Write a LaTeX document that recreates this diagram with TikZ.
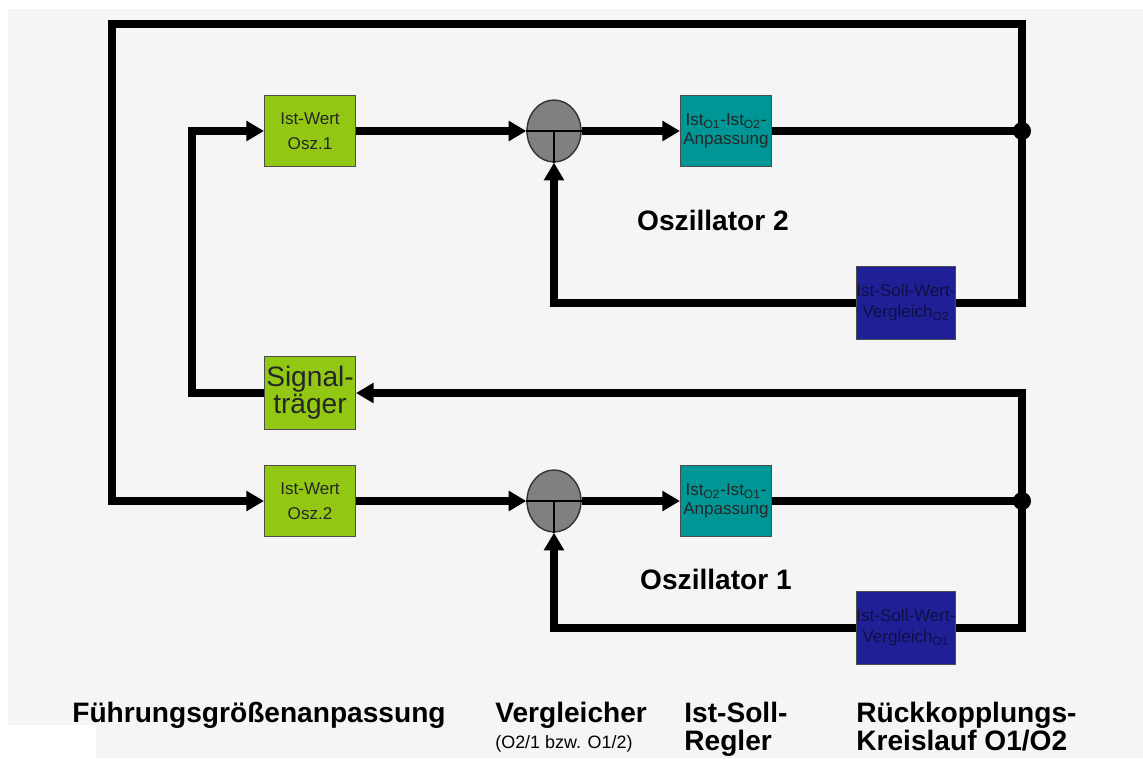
\documentclass[tikz,border=0pt]{standalone}
\usepackage{fontspec}
\setmainfont{Liberation Sans}
\usetikzlibrary{arrows.meta,shapes.geometric}
\definecolor{bg}{HTML}{F5F5F5}
\definecolor{boxgreen}{RGB}{146,200,20}
\definecolor{boxteal}{RGB}{0,150,150}
\definecolor{boxnavy}{RGB}{32,32,150}
\definecolor{navytext}{RGB}{15,15,70}
\definecolor{cmpgray}{RGB}{128,128,128}
\begin{document}
\begin{tikzpicture}[x=0.02cm,y=-0.02cm,
  conn/.style={line width=4pt,black},
  arr/.style={conn,-{Triangle[length=10pt,width=11pt]}},
  blk/.style={draw=black!70,line width=0.6pt,minimum width=1.82cm,minimum height=1.42cm,inner sep=0pt,align=center},
  greenbox/.style={blk,fill=boxgreen,text=black!85,font=\fontsize{9.7}{14}\selectfont},
  sigbox/.style={blk,fill=boxgreen,minimum height=1.46cm,text=black!85,font=\fontsize{16}{15.5}\selectfont},
  tealbox/.style={blk,fill=boxteal,text=black!85,font=\fontsize{9.7}{11}\selectfont},
  navybox/.style={blk,fill=boxnavy,minimum height=1.46cm,text=navytext,font=\fontsize{9.7}{12}\selectfont},
  cmp/.style={ellipse,draw=black!80,line width=0.8pt,fill=cmpgray,minimum width=1.08cm,minimum height=1.24cm,inner sep=0pt},
  lbl/.style={font=\fontsize{16}{18}\selectfont\bfseries,inner sep=0pt},
  small/.style={font=\fontsize{10.2}{12}\selectfont,inner sep=0pt}]
\useasboundingbox (0,0) rectangle (1143,758);
\fill[white] (0,0) rectangle (1143,758);
\fill[bg] (8,9) rectangle (1143,725);
\fill[bg] (96,724) rectangle (1143,758);

% blocks
\node[greenbox] (osz1) at (310,131) {Ist-Wert\\Osz.1};
\node[greenbox] (osz2) at (310,501) {Ist-Wert\\Osz.2};
\node[sigbox] (sig) at (310,393) {Signal-\\träger};
\node[cmp] (c1) at (554,131) {};
\node[cmp] (c2) at (554,501) {};
\node[tealbox] (ist1) at (726,131) {Ist\textsubscript{O1}-Ist\textsubscript{O2}-\\Anpassung};
\node[tealbox] (ist2) at (726,501) {Ist\textsubscript{O2}-Ist\textsubscript{O1}-\\Anpassung};
\node[navybox] (v2) at (906,303) {Ist-Soll-Wert-\\Vergleich\textsubscript{O2}};
\node[navybox] (v1) at (906,628) {Ist-Soll-Wert-\\Vergleich\textsubscript{O1}};

% comparator inner lines
\draw[black,line width=0.8pt] (c1.west) -- (c1.east) (c1.center) -- (c1.south);
\draw[black,line width=0.8pt] (c2.west) -- (c2.east) (c2.center) -- (c2.south);

% coordinates
\coordinate (j1) at (1022,131);
\coordinate (j2) at (1022,501);
\coordinate (tr) at (1022,24);
\coordinate (tl) at (112,24);
\coordinate (ls) at (192,393);

% upper oscillator
\draw[arr] (osz1.east) -- (c1.west);
\draw[arr] (c1.east) -- (ist1.west);
\draw[conn] (ist1.east) -- (j1);
\draw[conn] (j1) |- (v2.east);
\draw[arr] (v2.west) -| (c1.south);

% lower oscillator
\draw[arr] (osz2.east) -- (c2.west);
\draw[arr] (c2.east) -- (ist2.west);
\draw[conn] (ist2.east) -- (j2);
\draw[conn] (j2) |- (v1.east);
\draw[arr] (v1.west) -| (c2.south);

% cross couplings
\draw[arr] (j1) -- (tr) -- (tl) |- (osz2.west);
\draw[arr] (j2) |- (sig.east);
\draw[arr] (sig.west) -- (ls) |- (osz1.west);

\fill (j1) circle (9);
\fill (j2) circle (9);

% labels
\node[lbl] (lo2) at (713,220) {Oszillator 2};
\node[lbl] (lo1) at (716,579) {Oszillator 1};
\node[lbl,anchor=base west] (lf) at (72,722) {Führungsgrößenanpassung};
\node[lbl,anchor=base west] (lv) at (495,722) {Vergleicher};
\node[small,anchor=base west] (lvs) at (495,748) {(O2/1 bzw. O1/2)};
\node[lbl,anchor=base west] (lr1) at (684,722) {Ist-Soll-};
\node[lbl,anchor=base west] (lr2) at (684,750) {Regler};
\node[lbl,anchor=base west] (lk1) at (856,722) {Rückkopplungs-};
\node[lbl,anchor=base west] (lk2) at (856,750) {Kreislauf O1/O2};
\end{tikzpicture}
\end{document}
